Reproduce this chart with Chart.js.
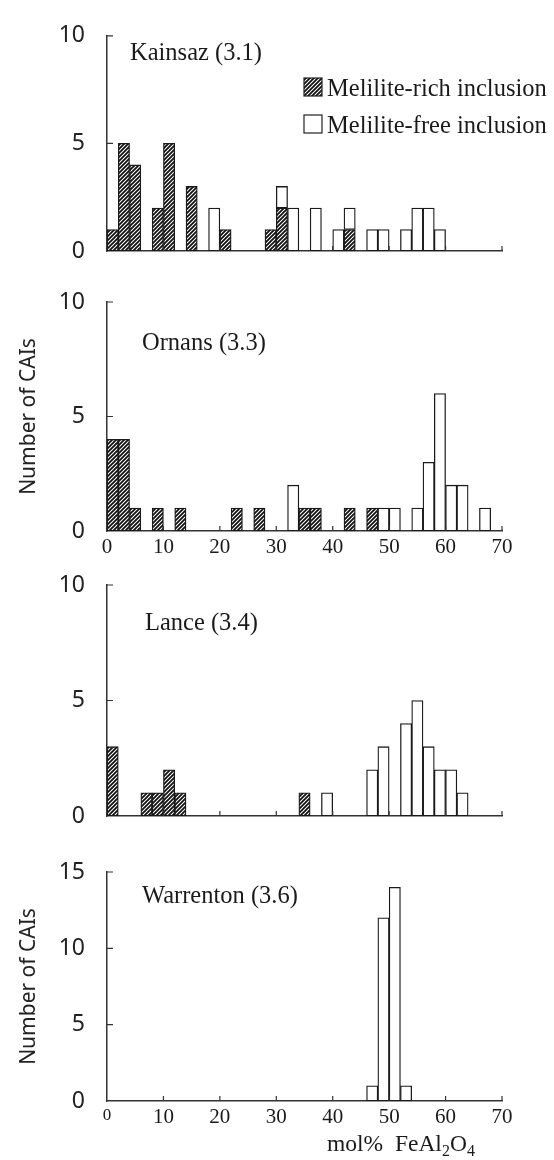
<!DOCTYPE html>
<html>
<head>
<meta charset="utf-8">
<script src="https://cdn.jsdelivr.net/npm/chart.js@4.4.0/dist/chart.umd.min.js"></script>
<style>
body{margin:0;background:#fff;width:554px;height:1160px;position:relative;overflow:hidden}
canvas{position:absolute;left:0;top:0}
.lbl{position:absolute;font-family:"Liberation Serif","Times New Roman",serif;font-size:24.5px;line-height:24px;color:#1a1a1a;white-space:nowrap}
.xt{position:absolute;left:327px;top:1132px;font-family:"Liberation Serif",serif;font-size:23.5px;line-height:23px;color:#1a1a1a;white-space:nowrap}
.xt sub{font-size:16px;line-height:0;vertical-align:-5px}
</style>
</head>
<body>
<canvas id="c1" width="554" height="1160"></canvas>
<canvas id="c2" width="554" height="1160"></canvas>
<canvas id="c3" width="554" height="1160"></canvas>
<canvas id="c4" width="554" height="1160"></canvas>

<div class="lbl" style="left:130px;top:40px">Kainsaz (3.1)</div>
<div class="lbl" style="left:142px;top:330px">Ornans (3.3)</div>
<div class="lbl" style="left:145px;top:610px">Lance (3.4)</div>
<div class="lbl" style="left:142px;top:883px">Warrenton (3.6)</div>
<div class="xt">mol%&nbsp; FeAl<sub>2</sub>O<sub>4</sub></div>

<script>
// bin centres, mol% FeAl2O4 (2 % wide bins)
binMid = [1,3,5,7,9,11,13,15,17,19,21,23,25,27,29,31,33,35,37,39,41,43,45,47,49,51,53,55,57,59,61,63,65,67,69]

kainsazRich   = [1,5,4,0,2,5,0,3,0,0, 1,0,0,0,1,2,0,0,0,0, 0,1,0,0,0,0,0,0,0,0, 0,0,0,0,0]
kainsazFree   = [0,0,0,0,0,0,0,0,0,2, 0,0,0,0,0,1,2,0,2,0, 1,1,0,1,1,0,1,2,2,1, 0,0,0,0,0]
ornansRich    = [4,4,1,0,1,0,1,0,0,0, 0,1,0,1,0,0,0,1,1,0, 0,1,0,1,0,0,0,0,0,0, 0,0,0,0,0]
ornansFree    = [0,0,0,0,0,0,0,0,0,0, 0,0,0,0,0,0,2,0,0,0, 0,0,0,0,1,1,0,1,3,6, 2,2,0,1,0]
lanceRich     = [3,0,0,1,1,2,1,0,0,0, 0,0,0,0,0,0,0,1,0,0, 0,0,0,0,0,0,0,0,0,0, 0,0,0,0,0]
lanceFree     = [0,0,0,0,0,0,0,0,0,0, 0,0,0,0,0,0,0,0,0,1, 0,0,0,2,3,0,4,5,3,2, 2,1,0,0,0]
warrentonRich = [0,0,0,0,0,0,0,0,0,0, 0,0,0,0,0,0,0,0,0,0, 0,0,0,0,0,0,0,0,0,0, 0,0,0,0,0]
warrentonFree = [0,0,0,0,0,0,0,0,0,0, 0,0,0,0,0,0,0,0,0,0, 0,0,0,1,12,14,1,0,0,0, 0,0,0,0,0]

xTickVals = [0,10,20,30,40,50,60,70]
seriesNames = ['Melilite-rich inclusion','Melilite-free inclusion']

function hatch(){
    var s=4, p=document.createElement('canvas')
    p.width=s; p.height=s
    var g=p.getContext('2d')
    g.fillStyle='#fff'; g.fillRect(0,0,s,s)
    g.strokeStyle='#111'; g.lineWidth=1.8
    g.beginPath()
    for(var k=-s;k<=2*s;k+=s){ g.moveTo(k-1,s+1); g.lineTo(k+s+1,-1) }
    g.stroke()
    return document.createElement('canvas').getContext('2d').createPattern(p,'repeat')
}
hatchFill = hatch()

function pts(arr){
    return arr.map(function(v,i){ return {x:binMid[i], y: v ? v : null} })
}

// inward tick marks on both axes
inTicks = {
    id:'inTicks',
    afterDraw: function(chart){
        var c=chart.ctx, a=chart.chartArea, xs=chart.scales.x, ys=chart.scales.y
        c.save(); c.strokeStyle='#333'; c.lineWidth=1.2; c.beginPath()
        xTickVals.forEach(function(v){ if(v>0){ var px=xs.getPixelForValue(v); c.moveTo(px,a.bottom); c.lineTo(px,a.bottom-5) } })
        ys.ticks.forEach(function(t){ if(t.value>0){ var py=ys.getPixelForValue(t.value); c.moveTo(a.left,py); c.lineTo(a.left+6,py) } })
        c.stroke(); c.restore()
    }
}

// legend drawn inside the first panel
boxLegend = {
    id:'boxLegend',
    afterDraw: function(chart, args, o){
        if(!o.show) return
        var c=chart.ctx
        c.save()
        c.font='24.5px "Liberation Serif", serif'
        c.textBaseline='alphabetic'
        chart.data.datasets.forEach(function(d,i){
            var y=o.y+i*37
            c.fillStyle=d.backgroundColor; c.fillRect(o.x,y,18,18)
            c.strokeStyle='#222'; c.lineWidth=1.2; c.strokeRect(o.x,y,18,18)
            c.fillStyle='#1a1a1a'; c.fillText(d.label,o.x+23,y+18)
        })
        c.restore()
    }
}

function panel(id, rich, free, yMax, o){
    return new Chart(document.getElementById(id), {
        type:'bar',
        data:{
            datasets:[
                {label:seriesNames[0], data:pts(rich), backgroundColor:hatchFill, borderColor:'#1a1a1a', borderWidth:1.3, borderSkipped:false, barPercentage:1, categoryPercentage:1},
                {label:seriesNames[1], data:pts(free), backgroundColor:'#fff', borderColor:'#1a1a1a', borderWidth:1.3, borderSkipped:false, barPercentage:1, categoryPercentage:1}
            ]
        },
        options:{
            responsive:false, animation:false,
            layout:{padding:{top:o.top, right:52, left:0, bottom:1120-o.bottom}},
            plugins:{legend:{display:false}, tooltip:{enabled:false}, boxLegend:{show:!!o.legend, x:304, y:78}},
            scales:{
                x:{
                    type:'linear', min:0, max:70, offset:false, stacked:true,
                    grid:{display:false, drawTicks:false},
                    border:{display:true, color:'#333', width:1.5},
                    ticks:{display:o.xLabels, stepSize:10, autoSkip:false, maxRotation:0, padding:4, color:'#1a1a1a',
                           font:function(ctx){ return {family:'"Liberation Serif", serif', size:(o.smallZero && ctx.index===0) ? 17 : 21} }}
                },
                y:{
                    min:0, max:yMax, stacked:true,
                    grid:{display:false, drawTicks:false},
                    border:{display:true, color:'#333', width:1.5},
                    ticks:{stepSize:5, padding:22, color:'#222', font:{family:'"Noto Sans", sans-serif', size:23}},
                    title:{display:o.yTitle, text:'Number of CAIs', color:'#222', padding:{top:16, bottom:0},
                           font:{family:'"Noto Sans", sans-serif', size:21}},
                    afterFit:function(s){ s.width=107 }
                }
            }
        },
        plugins:[inTicks, boxLegend]
    })
}

// move the plot area of each panel onto its place on the page
function place(ch, top, bottom){
    for(var k=0;k<3;k++){
        var a=ch.chartArea, p=ch.options.layout.padding
        p.top += top - a.top
        p.bottom += a.bottom - bottom
        ch.update()
    }
}

charts=[]
charts.push(panel('c1', kainsazRich,   kainsazFree,   10, {top:19,  bottom:251,  xLabels:false, yTitle:false, legend:true}))
charts.push(panel('c2', ornansRich,    ornansFree,    10, {top:302, bottom:531,  xLabels:true,  yTitle:true}))
charts.push(panel('c3', lanceRich,     lanceFree,     10, {top:585, bottom:816,  xLabels:false, yTitle:false}))
charts.push(panel('c4', warrentonRich, warrentonFree, 15, {top:872, bottom:1101, xLabels:true,  yTitle:true, smallZero:true}))
place(charts[0], 19, 251)
place(charts[1], 302, 531)
place(charts[2], 585, 816)
place(charts[3], 872, 1101)
</script>
</body>
</html>
